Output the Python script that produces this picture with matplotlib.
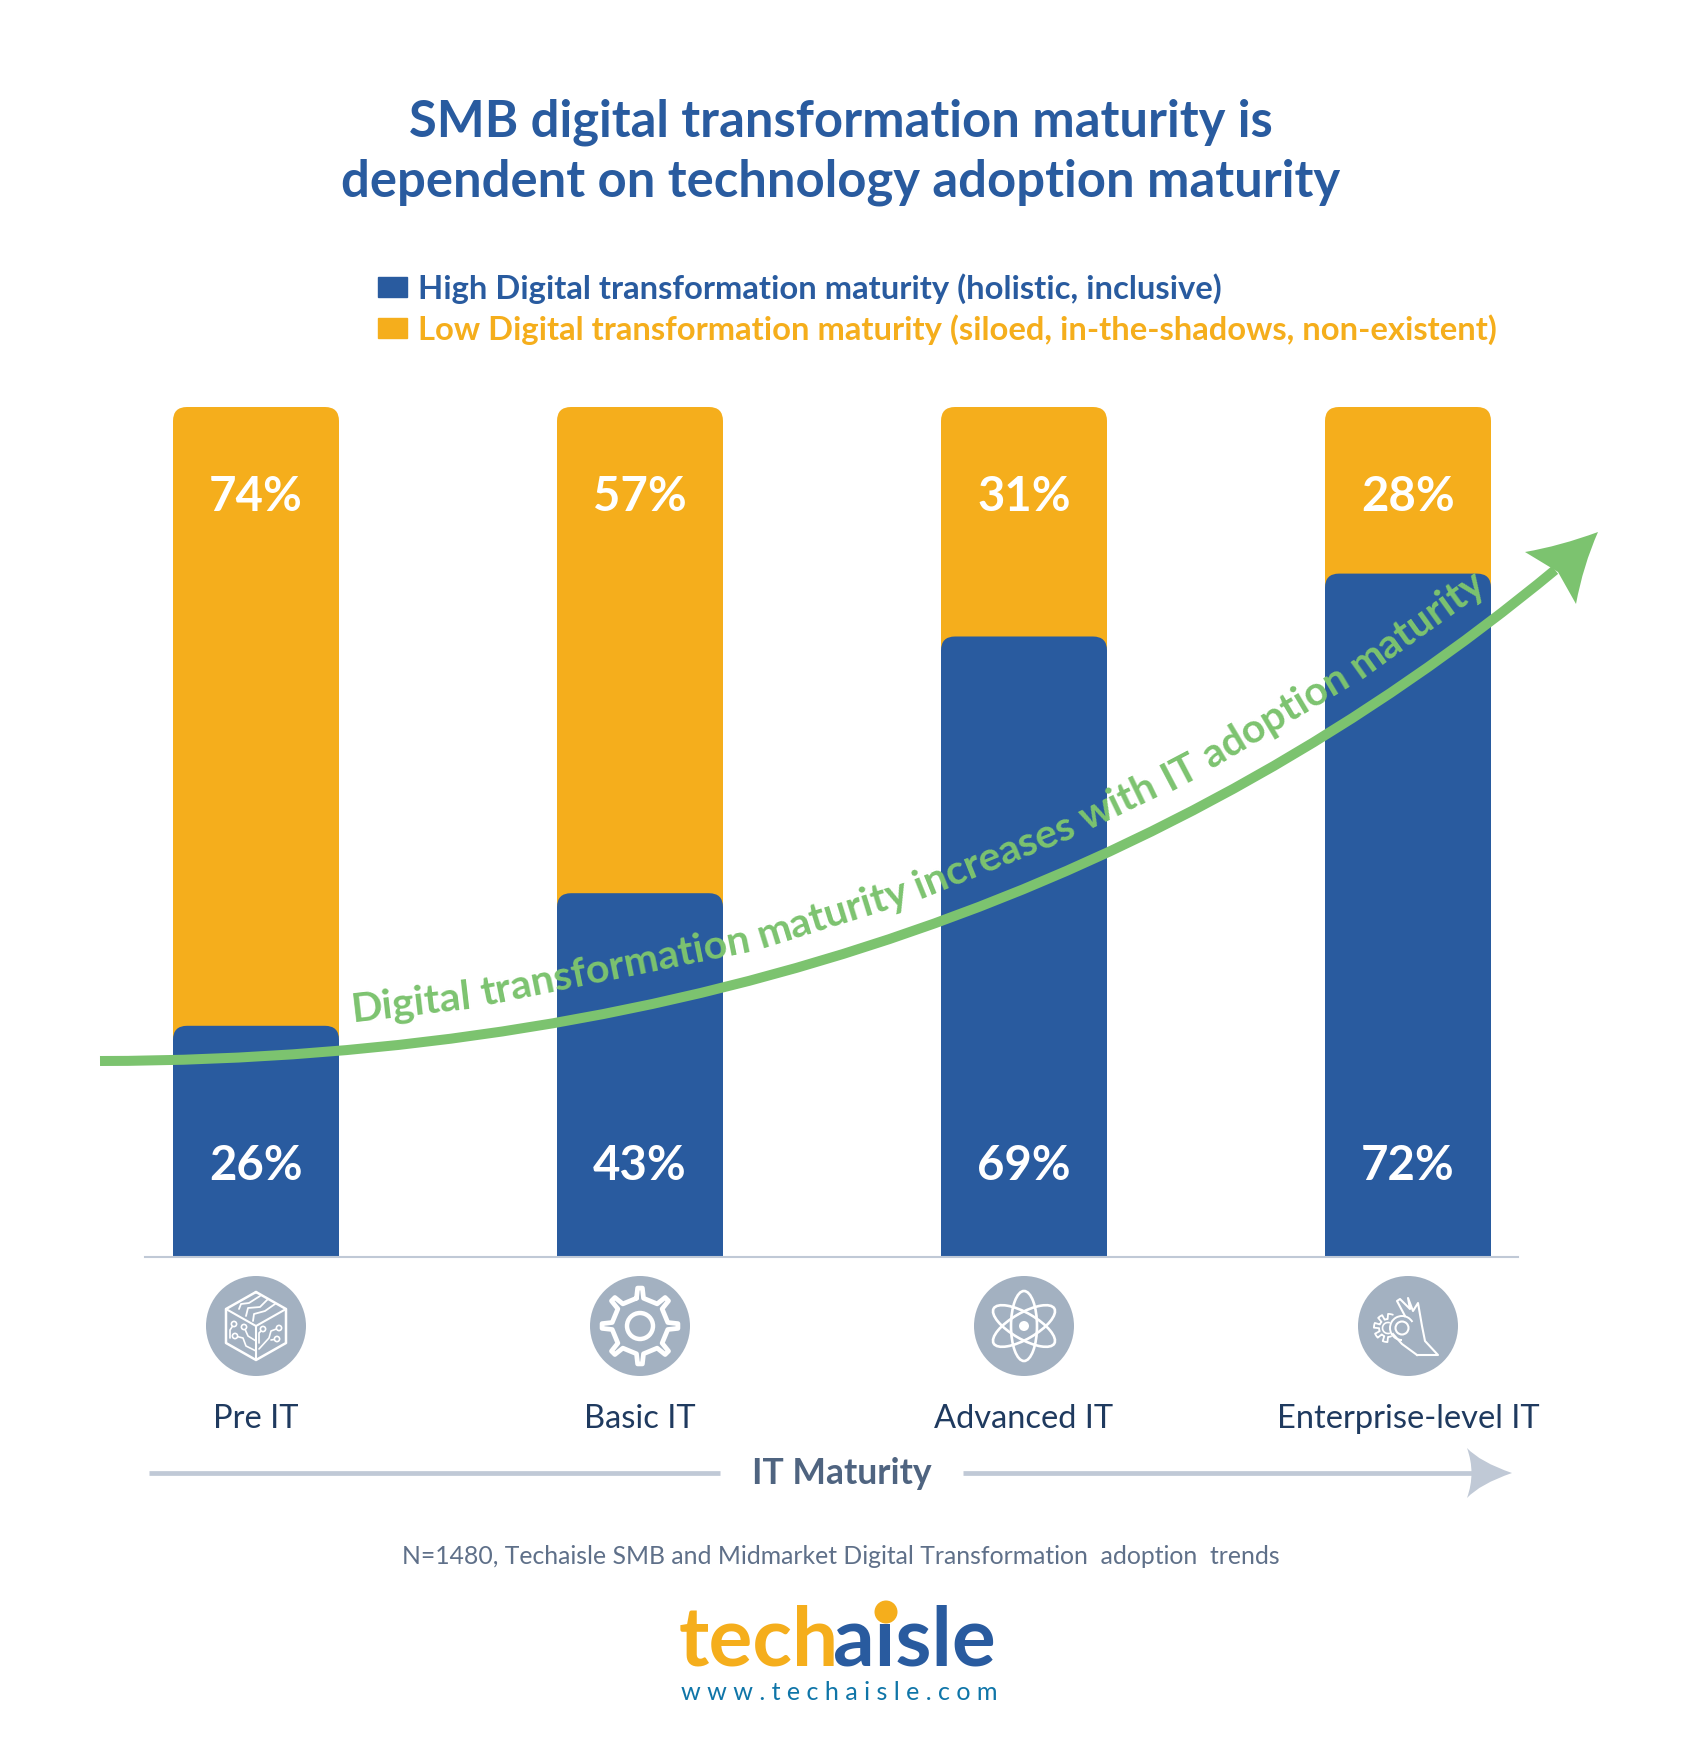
import numpy as np
import matplotlib
matplotlib.use("Agg")
import matplotlib.pyplot as plt
from matplotlib.patches import FancyBboxPatch, Circle, Patch, PathPatch, Ellipse, Arc
from matplotlib.path import Path

plt.rcParams['font.family'] = ['Lato', 'DejaVu Sans']

W, H = 1682, 1739

BLUE = '#295b9f'
ORANGE = '#f5ae1c'
GREEN = '#7cc36f'
GREY = '#c0c9d6'
ICON = '#a3b1c1'

# data
categories = ['Pre IT', 'Basic IT', 'Advanced IT', 'Enterprise-level IT']
high_labels = ['26%', '43%', '69%', '72%']
low_labels = ['74%', '57%', '31%', '28%']
# the drawn blue heights don't follow the printed numbers, so they are kept apart
high_heights = [27.2, 42.8, 73.0, 80.4]
full_height = [100, 100, 100, 100]

title_lines = ['SMB digital transformation maturity is',
               'dependent on technology adoption maturity']
legend_labels = ['High Digital transformation maturity (holistic, inclusive)',
                 'Low Digital transformation maturity (siloed, in-the-shadows, non-existent)']
trend_words = 'Digital transformation maturity increases with IT adoption maturity'.split()
footnote = 'N=1480, Techaisle SMB and Midmarket Digital Transformation  adoption  trends'

fig = plt.figure(figsize=(W / 100, H / 100), dpi=100, facecolor='white')

# bars axes: baseline at y=1257 px, 100% at y=407 px
left, right, base, top = 145, 1518, 1257, 407
ax = fig.add_axes([left / W, 1 - base / H, (right - left) / W, (base - top) / H])
unit = 384.0
ax.set_xlim((left - 256) / unit, (right - 256) / unit)
ax.set_ylim(0, 100)
for s in ['top', 'left', 'right']:
    ax.spines[s].set_visible(False)
ax.spines['bottom'].set_color(GREY)
ax.spines['bottom'].set_linewidth(1.5)
ax.set_yticks([])
ax.set_xticks(range(4))
ax.set_xticklabels(categories, fontsize=23.5, color='#1f3a5f')
ax.tick_params(axis='x', length=0, pad=105.5)


def rounded_bar(x, h, color):
    bw = 166 / unit
    r = 14 / unit
    aspect = (100 / (base - top)) * unit
    ax.add_patch(FancyBboxPatch((x - bw / 2, -10), bw, h + 10,
                                boxstyle='round,pad=0,rounding_size=%f' % r,
                                mutation_aspect=aspect, fc=color, ec='none'))


for i in range(4):
    rounded_bar(i, full_height[i], ORANGE)
    rounded_bar(i, high_heights[i], BLUE)
    ax.text(i, 89.45, low_labels[i], color='white', fontsize=34, weight='bold',
            ha='center', va='center')
    ax.text(i, 10.7, high_labels[i], color='white', fontsize=34, weight='bold',
            ha='center', va='center')

# overlay in pixel coordinates for everything around the bars
ov = fig.add_axes([0, 0, 1, 1], facecolor='none')
ov.set_xlim(0, W)
ov.set_ylim(H, 0)
ov.axis('off')

ov.text(841, 122, title_lines[0], color=BLUE, fontsize=36.5, weight='bold', ha='center', va='center')
ov.text(841, 182, title_lines[1], color=BLUE, fontsize=36.5, weight='bold', ha='center', va='center')

# legend
ax.legend(handles=[Patch(color=BLUE, label=legend_labels[0]), Patch(color=ORANGE, label=legend_labels[1])],
          loc='upper left', bbox_to_anchor=(378 / W, 1 - 273 / H), bbox_transform=fig.transFigure,
          frameon=False, labelcolor=[BLUE, ORANGE], prop={'size': 23.62, 'weight': 'bold'},
          handlelength=0.885, handleheight=0.6, handletextpad=0.33, labelspacing=0.31,
          borderpad=0, borderaxespad=0)

# trend curve
p0, p1, p2, p3 = [np.array(p, float) for p in [(100, 1061), (700, 1060), (1180, 880), (1555, 570)]]
curve_path = Path([p0, p1, p2, p3], [Path.MOVETO, Path.CURVE4, Path.CURVE4, Path.CURVE4])
ov.add_patch(PathPatch(curve_path, fc='none', ec=GREEN, lw=7.2, capstyle='butt', zorder=3))
head = Path([(1598, 532), (1560, 546), (1525, 552), (1558, 572), (1576, 604), (1583, 566), (1598, 532), (1598, 532)],
            [Path.MOVETO, Path.CURVE3, Path.CURVE3, Path.LINETO, Path.LINETO, Path.CURVE3, Path.CURVE3, Path.CLOSEPOLY])
ov.add_patch(PathPatch(head, fc=GREEN, ec='none', zorder=3))

# text following the curve, word by word
t = np.linspace(0, 1, 2000)[:, None]
pts = (1 - t) ** 3 * p0 + 3 * (1 - t) ** 2 * t * p1 + 3 * (1 - t) * t ** 2 * p2 + t ** 3 * p3
tang = np.gradient(pts, axis=0)
tang = tang / np.linalg.norm(tang, axis=1, keepdims=True)
normal = np.column_stack([tang[:, 1], -tang[:, 0]])
base_pts = pts + normal * 28
arc = np.concatenate([[0], np.cumsum(np.linalg.norm(np.diff(base_pts, axis=0), axis=1))])

renderer = fig.canvas.get_renderer()
TREND_SIZE = 29.6


def text_w(s):
    tmp = ov.text(0, 0, s, fontsize=TREND_SIZE, weight='bold')
    w = tmp.get_window_extent(renderer).width
    tmp.remove()
    return w


space = text_w('a a') - text_w('aa')
s = arc[np.argmin(np.abs(base_pts[:, 0] - 353))]
for word in trend_words:
    w = text_w(word)
    k0 = np.searchsorted(arc, s)
    km = np.searchsorted(arc, s + w / 2)
    ang = np.degrees(np.arctan2(-tang[km, 1], tang[km, 0]))
    ov.text(base_pts[k0, 0], base_pts[k0, 1], word, color=GREEN, fontsize=TREND_SIZE, weight='bold',
            rotation=ang, rotation_mode='anchor', ha='left', va='baseline', zorder=4)
    s += w + space

# icons
centers = [256, 640, 1024, 1408]
ICON_Y = 1326
for cx in centers:
    ov.add_patch(Circle((cx, ICON_Y), 50, fc=ICON, ec='none'))


def wline(xs, ys, cx, lw=1.5):
    ov.plot(np.array(xs) + cx, np.array(ys) + ICON_Y, color='white', lw=lw,
            solid_capstyle='round', solid_joinstyle='round')


def wdot(x, y, cx, r=2.6, lw=1.2):
    ov.add_patch(Circle((cx + x, ICON_Y + y), r, fc=ICON, ec='white', lw=lw, zorder=3))


# cube with traces
cx = centers[0]
wline([0, 30, 30, 0, -30, -30, 0], [-34, -17, 17, 34, 17, -17, -34], cx, 1.8)
wline([-30, 0, 30], [-17, 0, -17], cx)
wline([0, 0], [0, 34], cx)
wline([-17, -15, -7, 4], [-17, -22, -23, -30], cx, 1.3)
wline([-10, -8, 4, 12], [-10, -18, -19, -27], cx, 1.3)
wline([-3, -2, 9, 19], [-5, -12, -15, -22], cx, 1.3)
wline([-21, -13, -10, 0], [10, 12, 20, 25], cx, 1.2)
wline([-12, -8, 0], [1, 10, 15], cx, 1.2)
wline([-22, -26, -26], [-2, 4, 12], cx, 1.2)
wline([7, 3, 3], [3, 7, 17], cx, 1.2)
wline([23, 15, 13, 3], [2, 5, 12, 23], cx, 1.2)
wline([21, 15], [13, 14], cx, 1.2)
for dx, dy in [(-22, -2), (-12, 1), (-21, 10), (7, 3), (23, 2), (21, 13)]:
    wdot(dx, dy, cx)

# gear
cx = centers[1]
teeth = 8
rad = np.tile([28, 38, 38, 28], teeth)
off = np.tile([-0.10, -0.05, 0.05, 0.10], teeth) * 2 * np.pi / teeth * 1.6
base_ang = np.linspace(0, 2 * np.pi, teeth, endpoint=False).repeat(4) + off
gx = rad * np.sin(base_ang)
gy = -rad * np.cos(base_ang)
wline(np.append(gx, gx[0]), np.append(gy, gy[0]), cx, 3.4)
ov.add_patch(Circle((cx, ICON_Y), 13, fc='none', ec='white', lw=3.2))

# atom
cx = centers[2]
for a in [0, 60, -60]:
    ov.add_patch(Ellipse((cx, ICON_Y), 26, 70, angle=a, fc='none', ec='white', lw=1.9))
ov.add_patch(Circle((cx, ICON_Y), 5, fc='white', ec='none'))

# hand holding a small gear
cx = centers[3]
th = np.radians(np.linspace(70, 290, 90))
gear_r = 11.5 + 2.6 * np.sign(np.sin(8 * th))
wline(-20 + gear_r * np.cos(th), 2 + gear_r * np.sin(th), cx, 1.3)
ov.add_patch(Arc((cx - 20, ICON_Y + 2), 11, 11, theta1=70, theta2=290, ec='white', lw=1.2))
ov.add_patch(Circle((cx - 6, ICON_Y + 2), 12, fc=ICON, ec='none', zorder=3))
ov.plot([cx + 9, cx + 30, cx + 17, cx + 14, cx + 10, cx + 5, cx, cx + 2, cx - 8, cx - 11, cx - 3],
        [ICON_Y + v for v in [29, 29, 15, 0, -23, -15, -28, -17, -27, -25, -10]],
        color='white', lw=1.5, solid_joinstyle='round', zorder=4)
ov.plot([cx - 15, cx - 6, cx + 9], [ICON_Y + 8, ICON_Y + 18, ICON_Y + 29], color='white', lw=1.5, zorder=4)
ov.add_patch(Arc((cx - 6, ICON_Y + 2), 24, 24, theta1=90, theta2=330, ec='white', lw=1.4, zorder=4))
ov.add_patch(Circle((cx - 6, ICON_Y + 2), 6.5, fc='none', ec='white', lw=1.5, zorder=4))

# IT Maturity axis arrow
ov.plot([149, 720], [1473, 1473], color=GREY, lw=3.4, solid_capstyle='butt')
ov.plot([963, 1490], [1473, 1473], color=GREY, lw=3.4, solid_capstyle='butt')
arrow = Path([(1512, 1473), (1480, 1462), (1467, 1448), (1476, 1473), (1467, 1498), (1480, 1484), (1512, 1473), (1512, 1473)],
             [Path.MOVETO, Path.CURVE3, Path.CURVE3, Path.CURVE3, Path.CURVE3, Path.CURVE3, Path.CURVE3, Path.CLOSEPOLY])
ov.add_patch(PathPatch(arrow, fc=GREY, ec='none'))
ov.text(842, 1474, 'IT Maturity', color='#4f6480', fontsize=25.6, weight='bold', ha='center', va='center')

ov.text(841, 1557, footnote, color='#5f7089', fontsize=17.85, ha='center', va='center')

# logo
logo_size = 59
ov.text(679, 1666, 'tech', color=ORANGE, fontsize=logo_size, weight='bold', ha='left', va='baseline')
ov.text(996, 1666, 'aisle', color=BLUE, fontsize=logo_size, weight='bold', ha='right', va='baseline')
ov.add_patch(Circle((886, 1612), 11.5, fc=ORANGE, ec='none', zorder=5))
ov.text(839, 1700, ' '.join('www.techaisle.com'), color='#0f75a8', fontsize=18.1, ha='center', va='baseline')

fig.savefig('out.png', dpi=100, facecolor='white')
